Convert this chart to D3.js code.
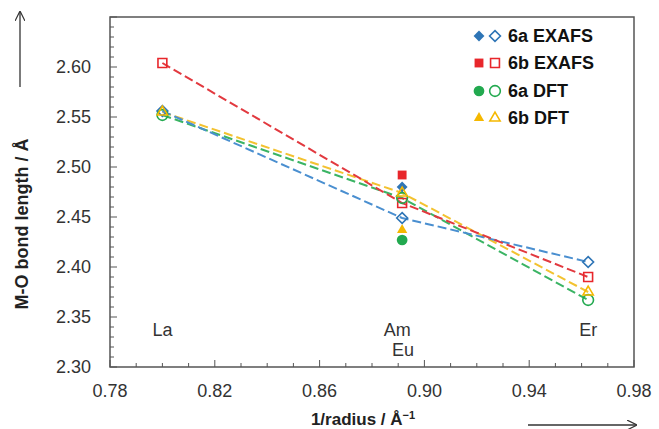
<!DOCTYPE html>
<html>
<head>
<meta charset="utf-8">
<script src="https://cdn.jsdelivr.net/npm/d3@7"></script>
<style>
  body { margin: 0; background: #fff; }
  svg { font-family: "Liberation Sans", Arial, sans-serif; }
</style>
</head>
<body>
<svg id="chart" width="659" height="429"></svg>
<script>
// element positions (1/radius) and labels
const elements = ["La", "Am", "Er"];
const invRadius = [0.800, 0.8915, 0.9625];

// open symbols, connected by dashed lines
const exafs6a = [2.556, 2.449, 2.405];
const exafs6b = [2.604, 2.464, 2.390];
const dft6a = [2.552, 2.469, 2.367];
const dft6b = [2.555, 2.474, 2.375];

// filled symbols at Eu
const euX = 0.8915;
const euValues = [2.480, 2.492, 2.427, 2.437];

const seriesNames = ["6a EXAFS", "6b EXAFS", "6a DFT", "6b DFT"];
const seriesColors = ["#2e75b6", "#e8262b", "#22a94f", "#f5b800"];
const lineColors = ["#4a8fd0", "#e2393f", "#3bb464", "#f3c230"];
const shapes = [d3.symbolDiamond2, d3.symbolSquare2, d3.symbolCircle, d3.symbolTriangle2];
const openData = [exafs6a, exafs6b, dft6a, dft6b];

const xTicks = [0.78, 0.82, 0.86, 0.90, 0.94, 0.98];
const yTicks = [2.30, 2.35, 2.40, 2.45, 2.50, 2.55, 2.60];

const svg = d3.select("#chart");
const m = { left: 110, right: 634, top: 17, bottom: 367 };

const x = d3.scaleLinear().domain([0.78, 0.98]).range([m.left, m.right]);
const y = d3.scaleLinear().domain([2.30, 2.65]).range([m.bottom, m.top]);

const axisColor = "#555";
const textColor = "#333";
const fs = 18;

// frame
svg.append("rect")
  .attr("x", m.left).attr("y", m.top)
  .attr("width", m.right - m.left).attr("height", m.bottom - m.top)
  .attr("fill", "none").attr("stroke", axisColor).attr("stroke-width", 1.5);

// minor + major ticks, pointing inward
const yMinor = d3.range(2.30, 2.6501, 0.01);
svg.append("g").selectAll("line").data(yMinor).join("line")
  .attr("x1", m.left).attr("x2", d => m.left + (Math.abs(Math.round(d * 100) % 5) === 0 ? 7 : 4))
  .attr("y1", d => y(d)).attr("y2", d => y(d))
  .attr("stroke", axisColor).attr("stroke-width", 1);

const xMinor = d3.range(0.78, 0.9801, 0.01);
svg.append("g").selectAll("line").data(xMinor).join("line")
  .attr("x1", d => x(d)).attr("x2", d => x(d))
  .attr("y1", m.bottom).attr("y2", d => m.bottom - (Math.round(d * 100) % 4 === 2 ? 7 : 4))
  .attr("stroke", axisColor).attr("stroke-width", 1);

// tick labels
svg.append("g").selectAll("text").data(yTicks).join("text")
  .attr("x", 91).attr("y", d => y(d)).attr("dy", "0.35em")
  .attr("text-anchor", "end").attr("font-size", fs).attr("fill", textColor)
  .text(d => d.toFixed(2));

svg.append("g").selectAll("text").data(xTicks).join("text")
  .attr("x", d => x(d)).attr("y", 397)
  .attr("text-anchor", "middle").attr("font-size", fs).attr("fill", textColor)
  .text(d => d.toFixed(2));

// axis titles
svg.append("text")
  .attr("x", 363).attr("y", 425)
  .attr("text-anchor", "middle").attr("font-size", 17).attr("font-weight", "bold").attr("fill", "#222")
  .html('1/radius / Å<tspan dy="-6" font-size="11">−1</tspan>');

svg.append("text")
  .attr("transform", "translate(28,224) rotate(-90)")
  .attr("text-anchor", "middle").attr("font-size", 18).attr("font-weight", "bold").attr("fill", "#222")
  .text("M-O bond length / Å");

// arrows
svg.append("defs").append("marker")
  .attr("id", "arr").attr("viewBox", "0 0 10 10").attr("refX", 9).attr("refY", 5)
  .attr("markerWidth", 10).attr("markerHeight", 10).attr("orient", "auto")
  .attr("markerUnits", "userSpaceOnUse")
  .append("path").attr("d", "M0,0 L10,5 L0,10").attr("fill", "none").attr("stroke", "#333").attr("stroke-width", 1.2);

svg.append("line").attr("x1", 20).attr("x2", 20).attr("y1", 87).attr("y2", 12)
  .attr("stroke", "#333").attr("stroke-width", 1.3).attr("marker-end", "url(#arr)");
svg.append("line").attr("x1", 528).attr("x2", 636).attr("y1", 425).attr("y2", 425)
  .attr("stroke", "#333").attr("stroke-width", 1.3).attr("marker-end", "url(#arr)");

// element labels
svg.append("g").selectAll("text").data(elements).join("text")
  .attr("x", (d, i) => x(invRadius[i]) + (d === "Am" ? -5 : 0)).attr("y", 336)
  .attr("text-anchor", "middle").attr("font-size", fs).attr("fill", textColor)
  .text(d => d);
svg.append("text")
  .attr("x", x(euX) + 1).attr("y", 356)
  .attr("text-anchor", "middle").attr("font-size", fs).attr("fill", textColor)
  .text("Eu");

// dashed lines
const line = d3.line().x((d, i) => x(invRadius[i])).y(d => y(d));
const drawOrder = [3, 2, 0, 1];
drawOrder.forEach(s => {
  svg.append("path").datum(openData[s])
    .attr("d", line).attr("fill", "none")
    .attr("stroke", lineColors[s]).attr("stroke-width", 2)
    .attr("stroke-dasharray", "9,4");
});

const symSize = [75, 100, 90, 75];
function sym(s) { return d3.symbol().type(shapes[s]).size(symSize[s])(); }

// filled markers (Eu)
euValues.forEach((v, s) => {
  svg.append("path").attr("d", sym(s))
    .attr("transform", `translate(${x(euX)},${y(v)})`)
    .attr("fill", seriesColors[s]).attr("stroke", "none");
});

// open markers
openData.forEach((arr, s) => {
  svg.append("g").selectAll("path").data(arr).join("path")
    .attr("d", sym(s))
    .attr("transform", (d, i) => `translate(${x(invRadius[i])},${y(d)})`)
    .attr("fill", "none").attr("stroke", seriesColors[s]).attr("stroke-width", 1.6);
});

// legend
const legY = [36, 63, 91, 118];
seriesNames.forEach((name, s) => {
  const g = svg.append("g");
  g.append("path").attr("d", sym(s)).attr("transform", `translate(479,${legY[s]})`)
    .attr("fill", seriesColors[s]);
  g.append("path").attr("d", sym(s)).attr("transform", `translate(495,${legY[s]})`)
    .attr("fill", "none").attr("stroke", seriesColors[s]).attr("stroke-width", 1.6);
  g.append("text").attr("x", 508).attr("y", legY[s]).attr("dy", "0.35em")
    .attr("font-size", fs).attr("font-weight", "bold").attr("fill", "#111")
    .text(name);
});
</script>
</body>
</html>
